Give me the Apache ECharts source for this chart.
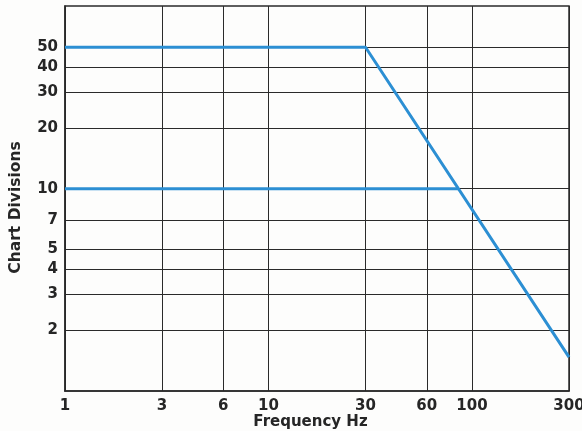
<!DOCTYPE html>
<html>
<head>
<meta charset="utf-8">
<script src="https://cdn.jsdelivr.net/npm/echarts@6/dist/echarts.min.js"></script>
<style>
html,body{margin:0;padding:0;background:#fdfdfc;}
#c{width:582px;height:431px;}
</style>
</head>
<body>
<div id="c"></div>
<script>
const xTicks = [1, 3, 6, 10, 30, 60, 100, 300];
const yTicks = [2, 3, 4, 5, 7, 10, 20, 30, 40, 50];
const upperLine = [[1, 50], [30, 50], [300, 1.47]];
const lowerLine = [[1, 10], [86, 10]];
const xName = 'Frequency Hz';
const yName = 'Chart Divisions';

const chart = echarts.init(document.getElementById('c'));
const font = '"DejaVu Sans", sans-serif';
chart.setOption({
  backgroundColor: '#fdfdfc',
  animation: false,
  grid: { left: 65, right: 13, top: 6, bottom: 40, outerBoundsMode: 'none', containLabel: false, show: true, borderColor: '#2a2a2a', borderWidth: 1.5, backgroundColor: 'transparent' },
  xAxis: {
    type: 'log', logBase: 10, min: 1, max: 300,
    name: xName, nameLocation: 'middle', nameGap: 24, nameMoveOverlap: false,
    nameTextStyle: { fontFamily: font, fontWeight: 'bold', fontSize: 15, color: '#262626', padding: [0, 13, 0, 0] },
    axisLine: { show: true, lineStyle: { color: '#2a2a2a', width: 1.5 } },
    axisTick: { show: false, customValues: xTicks },
    axisLabel: { customValues: xTicks, fontFamily: font, fontWeight: 'bold', fontSize: 15, color: '#262626', margin: 8, showMinLabel: true, showMaxLabel: true },
    splitLine: { show: true, lineStyle: { color: '#2a2a2a', width: 1 } },
    minorTick: { show: false }, minorSplitLine: { show: false }
  },
  yAxis: {
    type: 'log', logBase: 10, min: 1, max: 80,
    name: yName, nameLocation: 'middle', nameGap: 41, nameRotate: 90, nameMoveOverlap: false,
    nameTextStyle: { fontFamily: font, fontWeight: 'bold', fontSize: 15.5, color: '#262626', padding: [0, 18, 0, 0] },
    axisLine: { show: true, lineStyle: { color: '#2a2a2a', width: 1.5 } },
    axisTick: { show: false, customValues: yTicks },
    axisLabel: { customValues: yTicks, fontFamily: font, fontWeight: 'bold', fontSize: 15, color: '#262626', margin: 7 },
    splitLine: { show: true, lineStyle: { color: '#2a2a2a', width: 1 } }
  },
  series: [
    { type: 'line', data: upperLine, symbol: 'none', lineStyle: { color: '#2c8fd3', width: 3 }, z: 5 },
    { type: 'line', data: lowerLine, symbol: 'none', lineStyle: { color: '#2c8fd3', width: 3 }, z: 5 }
  ]
});
</script>
</body>
</html>
